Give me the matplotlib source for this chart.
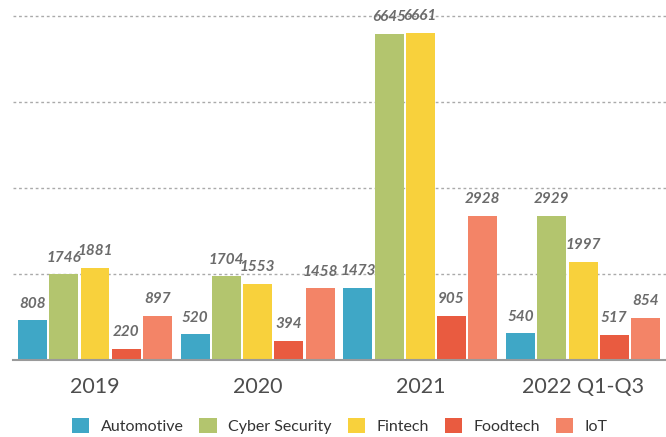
import numpy as np
import matplotlib.pyplot as plt

# data
years = ['2019', '2020', '2021', '2022 Q1-Q3']
sectors = ['Automotive', 'Cyber Security', 'Fintech', 'Foodtech', 'IoT']
automotive = [808, 520, 1473, 540]
cyber_security = [1746, 1704, 6645, 2929]
fintech = [1881, 1553, 6661, 1997]
foodtech = [220, 394, 905, 517]
iot = [897, 1458, 2928, 854]

colors = ['#3FA7C6', '#B3C56E', '#F8D13C', '#E95B40', '#F38467']
series = [automotive, cyber_security, fintech, foodtech, iot]

plt.rcParams['font.family'] = ['Lato', 'DejaVu Sans']

fig = plt.figure(figsize=(6.66, 4.37), dpi=100)
ax = fig.add_axes([13 / 666, 1 - 360 / 437, 653 / 666, 360 / 437])

x = np.arange(len(years))
pitch = 0.192
width = 0.178
for i, (name, vals) in enumerate(zip(sectors, series)):
    pos = x + (i - 2) * pitch
    ax.bar(pos, vals, width=width, color=colors[i], label=name, zorder=2)
    for px, v in zip(pos, vals):
        ax.annotate(str(v), (px, v), xytext=(0, 7), textcoords='offset points',
                    ha='center', va='bottom', fontsize=11, fontweight='bold',
                    fontstyle='italic', color='#6b6b6b', zorder=3)

ax.set_xlim(-0.504, 3.51)
ax.set_ylim(0, 7330)
ax.set_yticks([1750, 3500, 5250, 7000])
ax.yaxis.grid(True, color='#aaaaaa', linestyle=(0, (2, 2)), linewidth=1)
ax.set_axisbelow(True)
ax.tick_params(axis='y', left=False, labelleft=False)
ax.tick_params(axis='x', bottom=False, labelsize=15.5, labelcolor='#4d4d4d', pad=9)
ax.set_xticks(x)
ax.set_xticklabels(years)
for s in ['top', 'right', 'left']:
    ax.spines[s].set_visible(False)
ax.spines['bottom'].set_color('#9a9a9a')
ax.spines['bottom'].set_linewidth(1.5)

fig.legend(loc='center', bbox_to_anchor=(0.51, 1 - 426 / 437), ncol=5, frameon=False,
           fontsize=11.5, handlelength=1.1, handleheight=1.1, columnspacing=1.0,
           handletextpad=0.7, labelcolor='#333333')

fig.savefig('out.png', dpi=100)
